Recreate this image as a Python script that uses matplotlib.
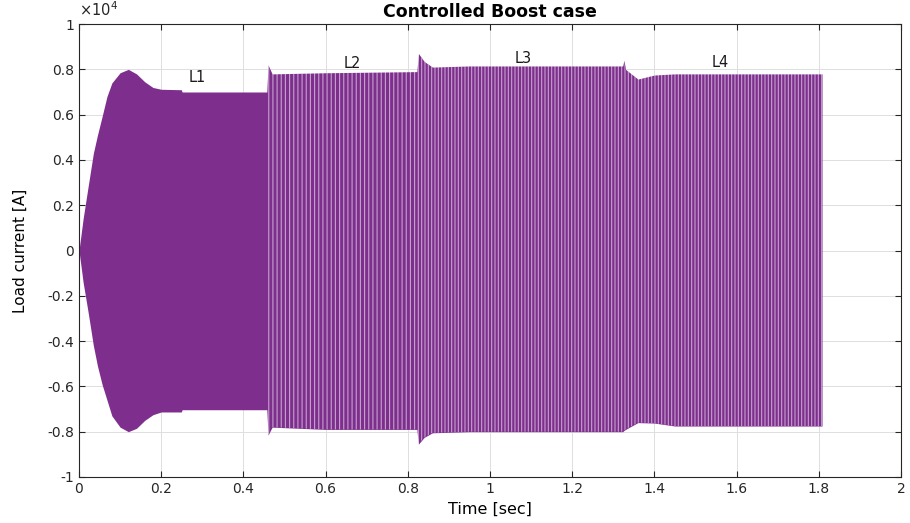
import numpy as np
import matplotlib.pyplot as plt
from matplotlib.ticker import FuncFormatter

plt.rcParams['font.family'] = ['DejaVu Sans']
plt.rcParams['axes.unicode_minus'] = False
plt.rcParams['hatch.linewidth'] = 0.8

# envelope of the load current (A)
time = [0, 0.01, 0.022, 0.035, 0.045, 0.056, 0.068, 0.08, 0.1, 0.12, 0.14, 0.16, 0.18,
        0.2, 0.249, 0.251, 0.457, 0.46, 0.47, 0.6, 0.822, 0.826, 0.84, 0.86, 0.95,
        1.323, 1.326, 1.33, 1.36, 1.40, 1.45, 1.808]
i_upper = [0, 1400, 2800, 4300, 5100, 5900, 6800, 7400, 7850, 8000, 7800, 7450, 7200,
           7120, 7100, 7000, 7000, 8200, 7800, 7850, 7900, 8700, 8350, 8100, 8150,
           8150, 8400, 8000, 7570, 7750, 7800, 7800]
i_lower = [0, -1400, -2700, -4200, -5100, -5900, -6600, -7300, -7800, -8000, -7850, -7500, -7250,
           -7130, -7130, -7030, -7030, -8150, -7800, -7900, -7900, -8550, -8250, -8050, -8000,
           -8000, -7950, -7900, -7600, -7620, -7750, -7750]

# load steps: start/end time of each load and the hatch density of its texture
seg_start = [0.457, 0.822, 1.323]
seg_end = [0.822, 1.323, 1.808]
seg_hatch = ['||||', '|||||', '|||||']

load_names = ['L1', 'L2', 'L3', 'L4']
load_t = [0.287, 0.665, 1.08, 1.56]
load_i = [7650, 8280, 8500, 8300]

purple = '#7E2F8E'

fig = plt.figure(figsize=(9.1, 5.23), dpi=100)
ax = fig.add_axes([0.0868, 0.088, 0.9032, 0.866])

t = np.array(time)
up = np.array(i_upper)
lo = np.array(i_lower)
ax.fill_between(t, lo, up, color=purple, linewidth=0)

for a, b, h in zip(seg_start, seg_end, seg_hatch):
    m = (t >= a) & (t <= b)
    ax.fill_between(t[m], lo[m], up[m], facecolor='none', edgecolor=(1, 1, 1, 0.55),
                    hatch=h, linewidth=0)

for name, x, y in zip(load_names, load_t, load_i):
    ax.text(x, y, name, ha='center', va='center', fontsize=10.5, color='#1a1a1a')


def fmt(v):
    v = round(v, 2) + 0.0
    return f"{v:g}"


ax.set_xlim(0, 2)
ax.set_ylim(-1e4, 1e4)
ax.set_xticks(np.arange(0, 2.01, 0.2))
ax.set_yticks(np.arange(-1, 1.01, 0.2) * 1e4)
ax.xaxis.set_major_formatter(FuncFormatter(lambda v, p: fmt(v)))
ax.yaxis.set_major_formatter(FuncFormatter(lambda v, p: fmt(v / 1e4)))
ax.tick_params(direction='in', top=True, right=True, labelsize=10, colors='#262626', length=4)
ax.grid(True, color='#dedede', linewidth=0.7)
ax.set_axisbelow(True)
for s in ax.spines.values():
    s.set_color('#262626')
    s.set_linewidth(0.8)

ax.text(0.0, 1.012, r'$\times 10^4$', transform=ax.transAxes, fontsize=10.5,
        color='#262626', ha='left', va='bottom')
ax.set_title('Controlled Boost case', fontsize=12.5, fontweight='bold', pad=5)
ax.set_xlabel('Time [sec]', fontsize=11.5, labelpad=4)
ax.set_ylabel('Load current [A]', fontsize=11, labelpad=14)

fig.savefig('out.png', dpi=100)
